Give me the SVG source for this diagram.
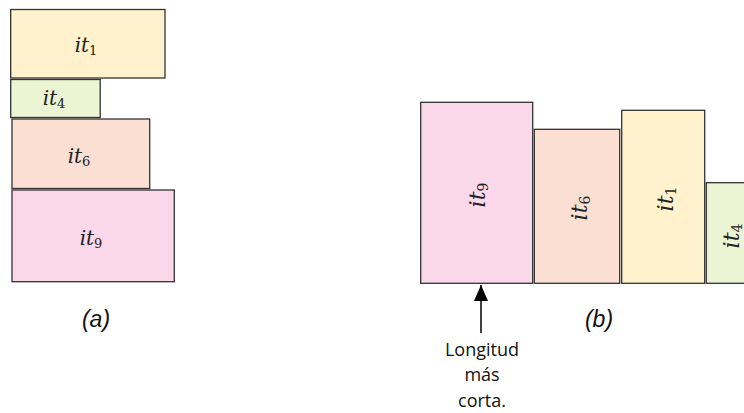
<svg xmlns="http://www.w3.org/2000/svg" width="744" height="413" viewBox="0 0 744 413">
  <style>
    .box { stroke: #333333; stroke-width: 1.3; }
    .y { fill: #FFF2CC; }
    .g { fill: #EBF5D3; }
    .o { fill: #FCDFD3; }
    .p { fill: #FBD7EA; }
    .lbl { font-family: "DejaVu Serif", serif; font-style: italic; fill: #222222; text-anchor: middle; }
    .sub { font-style: normal; }
    .cap { font-family: "Liberation Sans", Arial, sans-serif; font-style: italic; font-size: 23px; fill: #111111; text-anchor: middle; }
    .note { font-family: "Open Sans", "Liberation Sans", sans-serif; font-size: 18px; fill: #111111; text-anchor: middle; }
  </style>
  <defs>
    <marker id="head" viewBox="0 0 16 14" refX="16" refY="7" markerWidth="16" markerHeight="14" markerUnits="userSpaceOnUse" orient="auto">
      <path d="M0,0 L16,7 L0,14 Z" fill="#000000"/>
    </marker>
  </defs>

  <!-- (a) stacked pieces -->
  <g id="a-it1">
    <rect class="box y" x="10.7" y="9.5" width="154.3" height="68.5"/>
    <text class="lbl" x="86" y="52" font-size="20">it<tspan class="sub" font-size="13" dy="3">1</tspan></text>
  </g>
  <g id="a-it4">
    <rect class="box g" x="10.7" y="79.5" width="89.5" height="38"/>
    <text class="lbl" x="54" y="105" font-size="20">it<tspan class="sub" font-size="13" dy="3">4</tspan></text>
  </g>
  <g id="a-it6">
    <rect class="box o" x="12" y="119" width="137.7" height="69.5"/>
    <text class="lbl" x="79" y="163" font-size="20">it<tspan class="sub" font-size="13" dy="3">6</tspan></text>
  </g>
  <g id="a-it9">
    <rect class="box p" x="12" y="190" width="162.3" height="91.7"/>
    <text class="lbl" x="91" y="245" font-size="20">it<tspan class="sub" font-size="13" dy="3">9</tspan></text>
  </g>
  <text class="cap" x="96" y="327">(a)</text>

  <!-- (b) pieces standing side by side -->
  <g id="b-it9">
    <rect class="box p" x="420.7" y="102.3" width="112" height="181"/>
    <text class="lbl" font-size="22" transform="translate(477,195) rotate(-90)" y="8">it<tspan class="sub" font-size="14" dy="3">9</tspan></text>
  </g>
  <g id="b-it6">
    <rect class="box o" x="534.3" y="129.3" width="85.4" height="154"/>
    <text class="lbl" font-size="22" transform="translate(579,208) rotate(-90)" y="8">it<tspan class="sub" font-size="14" dy="3">6</tspan></text>
  </g>
  <g id="b-it1">
    <rect class="box y" x="621.7" y="110.3" width="83" height="173"/>
    <text class="lbl" font-size="22" transform="translate(665,199) rotate(-90)" y="8">it<tspan class="sub" font-size="14" dy="3">1</tspan></text>
  </g>
  <g id="b-it4">
    <rect class="box g" x="706.3" y="182.7" width="60" height="100.6"/>
    <text class="lbl" font-size="22" transform="translate(731,236) rotate(-90)" y="8">it<tspan class="sub" font-size="14" dy="3">4</tspan></text>
  </g>
  <text class="cap" x="599" y="327">(b)</text>

  <!-- pointer to the shortest piece -->
  <g id="connectors">
    <line x1="481" y1="333" x2="481" y2="285" stroke="#000000" stroke-width="1.5" marker-end="url(#head)"/>
  </g>
  <g id="note">
    <text class="note" x="482" y="356">Longitud</text>
    <text class="note" x="482" y="381">más</text>
    <text class="note" x="482" y="407">corta.</text>
  </g>
</svg>
